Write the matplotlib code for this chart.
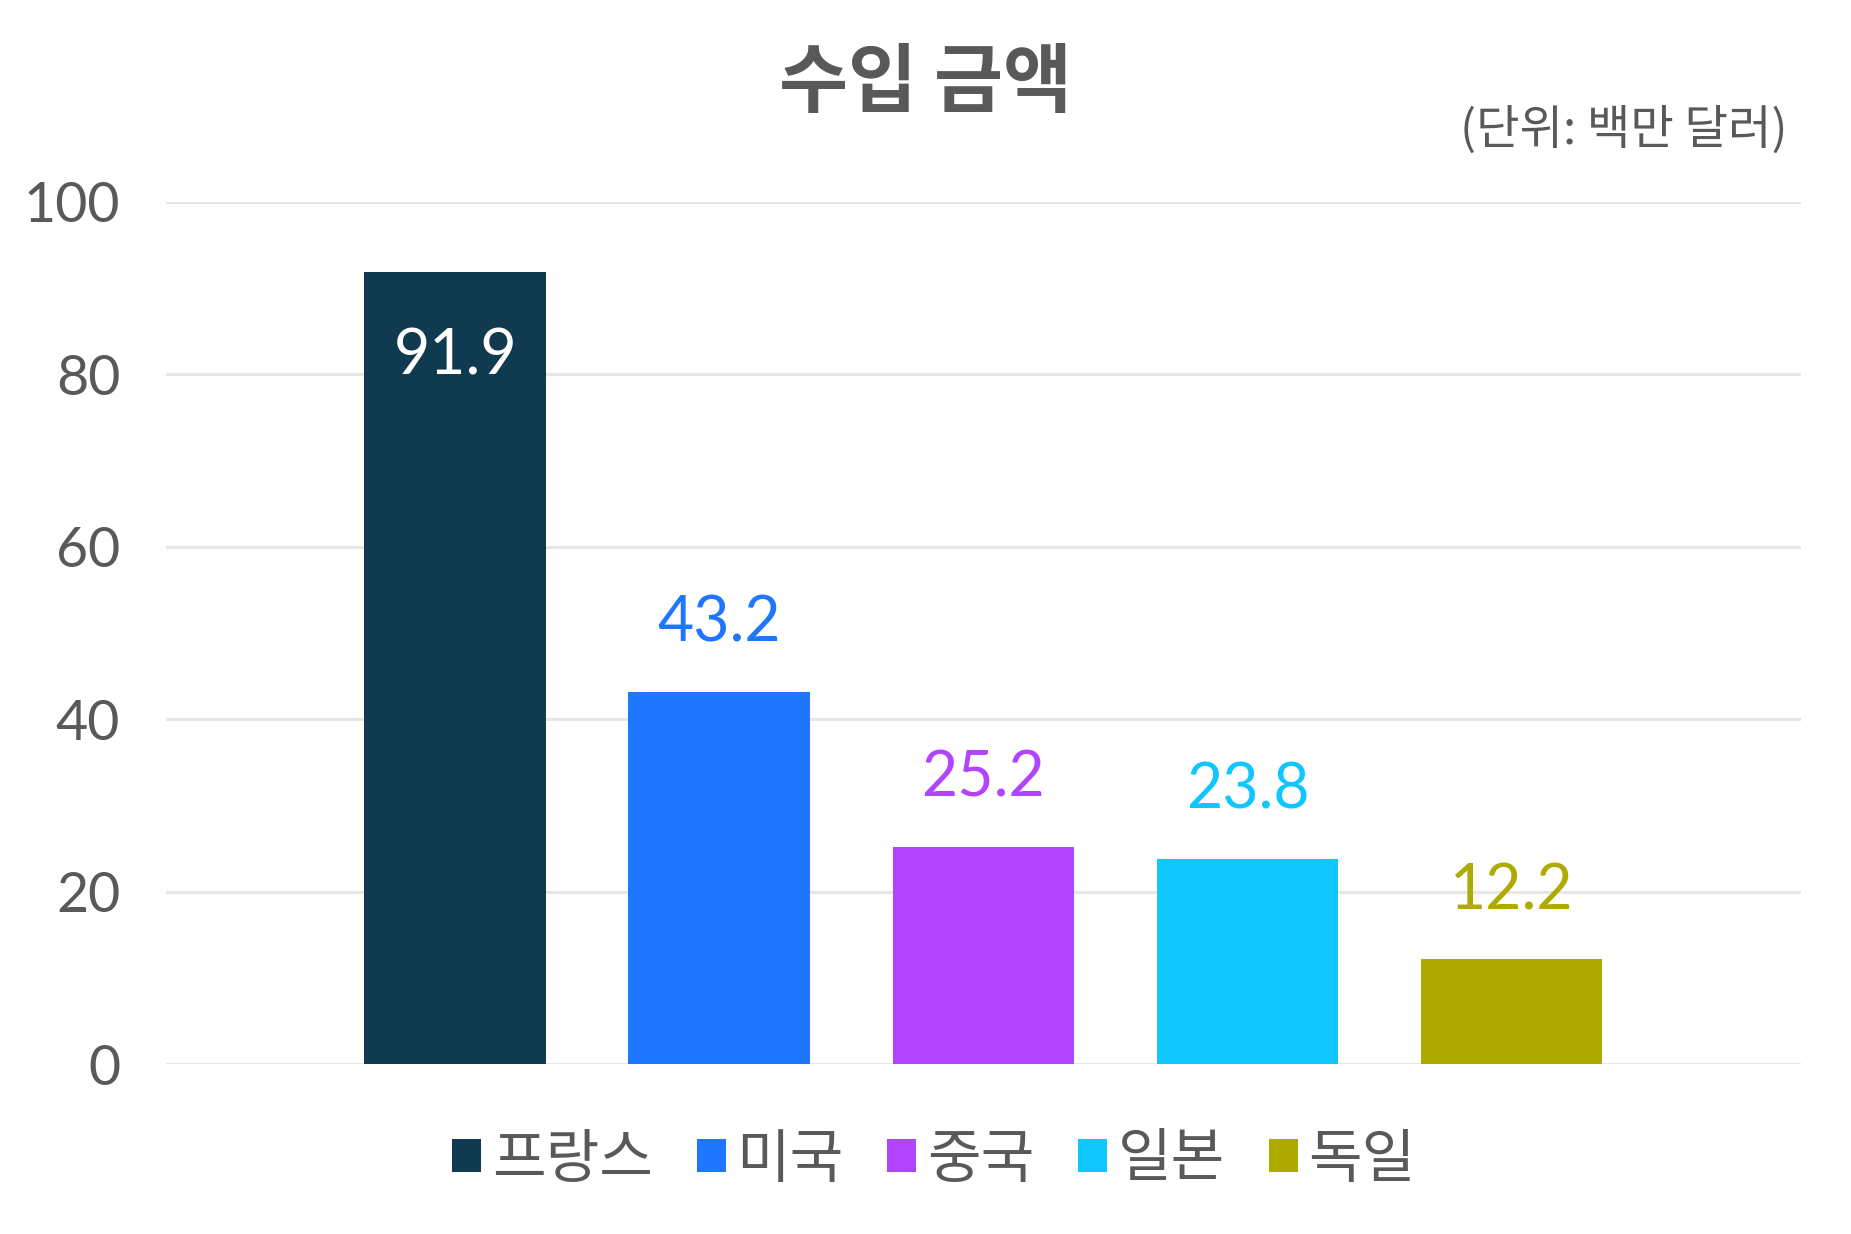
import matplotlib
matplotlib.use("Agg")
import matplotlib.pyplot as plt
from matplotlib.patches import Patch

# chart data
countries = ["프랑스", "미국", "중국", "일본", "독일"]
amounts = [91.9, 43.2, 25.2, 23.8, 12.2]
bar_colors = ["#0F3A4F", "#1F77FF", "#B044FF", "#0FC6FF", "#ADAA00"]
y_ticks = [0, 20, 40, 60, 80, 100]

title_text = "수입 금액"
unit_text = "(단위: 백만 달러)"

text_gray = "#595959"
grid_gray = "#E6E6E6"
cjk = ["Noto Sans CJK KR", "DejaVu Sans"]

plt.rcParams["font.family"] = ["Lato", "Noto Sans CJK KR", "DejaVu Sans"]

fig = plt.figure(figsize=(18.51, 12.34), dpi=100)
ax = fig.add_axes([0.0897, 0.1375, 0.8832, 0.699])

positions = list(range(len(countries)))
bars = ax.bar(positions, amounts, width=0.688, color=bar_colors, zorder=3)

ax.set_xlim(-1.095, len(countries) - 1 + 1.095)
ax.set_ylim(0, 100)
ax.set_yticks(y_ticks)
ax.set_yticklabels([str(t) for t in y_ticks])
ax.set_xticks([])
ax.tick_params(axis="y", length=0, pad=33, labelsize=40, labelcolor=text_gray)
ax.grid(axis="y", color=grid_gray, linewidth=2.2, zorder=0)
ax.set_axisbelow(True)
for spine in ax.spines.values():
    spine.set_visible(False)

# value labels: the tallest one sits inside its bar in white
for bar, value, color in zip(bars, amounts, bar_colors):
    cx = bar.get_x() + bar.get_width() / 2
    if value > 80:
        ax.annotate(f"{value}", (cx, value), xytext=(0, -61), textcoords="offset points",
                    ha="center", va="center", fontsize=45, color="white", zorder=4)
    else:
        ax.annotate(f"{value}", (cx, value), xytext=(0, 49), textcoords="offset points",
                    ha="center", va="center", fontsize=45, color=color, zorder=4)

fig.text(0.5, 1 - 84 / 1234, title_text, ha="center", va="center",
         fontsize=54, fontweight="bold", color=text_gray, family=cjk)
fig.text(1787 / 1851, 1 - 131 / 1234, unit_text, ha="right", va="center",
         fontsize=34, color=text_gray, family=cjk)

handles = [Patch(facecolor=c, edgecolor="none") for c in bar_colors]
fig.legend(handles, countries, loc="center", bbox_to_anchor=(0.5045, 1 - 1160 / 1234),
           ncol=len(countries), frameon=False, handlelength=0.5, handleheight=0.5,
           handletextpad=0.18, columnspacing=0.75, borderaxespad=0,
           prop={"family": cjk, "size": 42}, labelcolor=text_gray)

fig.savefig("out.png", dpi=100, facecolor="white")
